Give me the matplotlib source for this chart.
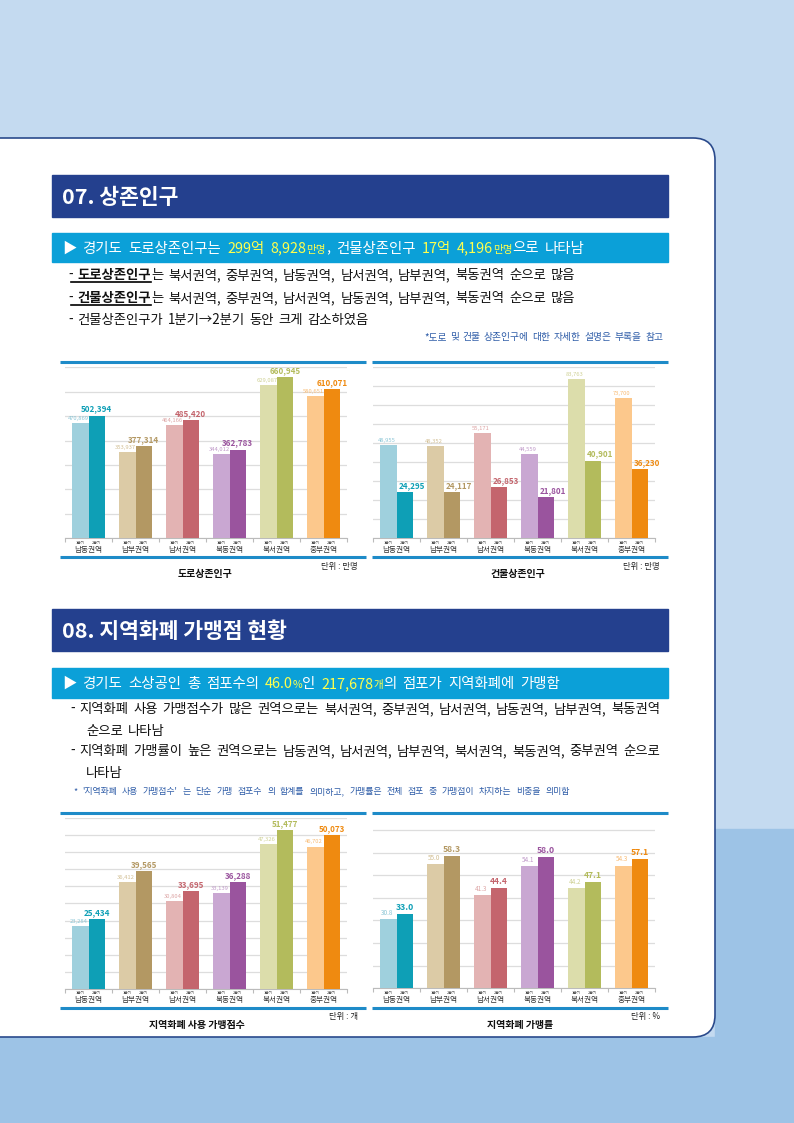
import numpy as np
import matplotlib
matplotlib.use("Agg")
import matplotlib.pyplot as plt
from matplotlib.patches import FancyBboxPatch, Rectangle

plt.rcParams['font.family'] = ['Noto Sans CJK KR', 'DejaVu Sans']

# 데이터
regions = ['남동권역', '남부권역', '남서권역', '북동권역', '북서권역', '중부권역']
quarters = ['1분기', '2분기']
road_q1 = [470869, 353937, 464166, 344012, 629087, 580651]
road_q2 = [502394, 377314, 485420, 362783, 660945, 610071]
bldg_q1 = [48955, 48352, 55171, 44559, 83763, 73700]
bldg_q2 = [24295, 24117, 26853, 21801, 40901, 36230]
store_q1 = [23284, 36412, 30804, 33139, 47326, 46702]
store_q2 = [25434, 39565, 33695, 36288, 51477, 50073]
rate_q1 = [30.8, 55.0, 41.3, 54.1, 44.2, 54.3]
rate_q2 = [33.0, 58.3, 44.4, 58.0, 47.1, 57.1]

light = ['#9FD0DD', '#DCCBA6', '#E3B3B3', '#C9A7D2', '#DCDDAB', '#FCC88C']
dark = ['#0E9FB6', '#B39863', '#C4656D', '#9A549E', '#B3BB5C', '#EF8A10']
light_txt = ['#8CC6D6', '#D2BF94', '#DDA5A5', '#C09AC9', '#CFD196', '#F8BC76']

W, H = 794, 1123
fig = plt.figure(figsize=(W / 100, H / 100), dpi=100)
fig.patch.set_facecolor('#C4DAF0')

# 배경용 축 (픽셀 좌표)
bg = fig.add_axes([0, 0, 1, 1], zorder=0)
bg.set_xlim(0, W)
bg.set_ylim(H, 0)
bg.axis('off')

bg.add_patch(Rectangle((715, 829), 100, 300, color='#9DC3E6', zorder=0))
bg.add_patch(Rectangle((-10, 1037), 830, 100, color='#9DC3E6', zorder=0))
bg.add_patch(FancyBboxPatch((-40, 138), 755, 899,
                            boxstyle='round,pad=0,rounding_size=22',
                            facecolor='white', edgecolor='#2A4A8C', lw=1.2, zorder=1))

renderer = fig.canvas.get_renderer()


def rich(x, y, parts, size, width=None, space=0.35, **kw):
    # 단어 단위로 나눠 그리고, width가 있으면 양쪽 정렬
    tokens = []
    pending = False
    for s, props in parts:
        for j, w in enumerate(s.split(' ')):
            if j > 0:
                pending = True
            if w:
                tokens.append([w, props, pending and len(tokens) > 0])
                pending = False
    objs = []
    for w, props, sb in tokens:
        p = dict(kw)
        p.update({k: v for k, v in props.items() if k not in ('size', 'underline')})
        t = bg.text(0, y, w, fontsize=props.get('size', size), va='baseline',
                    ha='left', zorder=5, **p)
        objs.append((t, t.get_window_extent(renderer).width))
    ngap = sum(1 for tk in tokens if tk[2])
    if width is not None and ngap:
        gap = (width - sum(o[1] for o in objs)) / ngap
    else:
        gap = space * size * 1.389
    for (w, props, sb), (t, wd) in zip(tokens, objs):
        if sb:
            x += gap
        t.set_x(x)
        if props.get('underline'):
            bg.plot([x - 6, x + wd], [y + 3, y + 3], color='black', lw=1.2, zorder=5)
        x += wd
    return x


def header(y0, y1, title):
    bg.add_patch(Rectangle((52, y0), 616, y1 - y0, color='#24408E', zorder=2))
    bg.text(62, (y0 + y1) / 2 + 1, title, color='white', fontsize=15.5,
            fontweight='bold', va='center', zorder=5)


def subheader(y0, y1, parts, width):
    bg.add_patch(Rectangle((52, y0), 616, y1 - y0, color='#0BA0D8', zorder=2))
    rich(62, (y0 + y1) / 2 + 5, parts, 10.4, width=width, color='white', fontweight='medium')


yel = '#FFFF4D'
ink = '#111111'
note = '#2F5DA8'

# 07. 상존인구
header(175, 217, '07. 상존인구')
subheader(233, 262, [
    ('▶ 경기도 도로상존인구는 ', {}),
    ('299억 8,928', {'color': yel}),
    ('만명', {'color': yel, 'size': 7.6}),
    (', 건물상존인구 ', {}),
    ('17억 4,196', {'color': yel}),
    ('만명', {'color': yel, 'size': 7.6}),
    ('으로 나타남', {}),
], 523)
rich(68, 279, [('- ', {}), ('도로상존인구', {'fontweight': 'bold', 'underline': True}),
               ('는 북서권역, 중부권역, 남동권역, 남서권역, 남부권역, 북동권역 순으로 많음', {})],
     9.6, width=507, color=ink)
rich(68, 302, [('- ', {}), ('건물상존인구', {'fontweight': 'bold', 'underline': True}),
               ('는 북서권역, 중부권역, 남서권역, 남동권역, 남부권역, 북동권역 순으로 많음', {})],
     9.6, width=507, color=ink)
rich(68, 324, [('- 건물상존인구가 1분기→2분기 동안 크게 감소하였음', {})], 9.6, width=301, color=ink)
rich(424, 340, [('*도로 및 건물 상존인구에 대한 자세한 설명은 부록을 참고', {})], 7, width=239,
     color=note)

# 08. 지역화폐 가맹점 현황
header(609, 651, '08. 지역화폐 가맹점 현황')
subheader(668, 698, [
    ('▶ 경기도 소상공인 총 점포수의 ', {}),
    ('46.0', {'color': yel}),
    ('%', {'color': yel, 'size': 7.6}),
    ('인 ', {}),
    ('217,678', {'color': yel}),
    ('개', {'color': yel, 'size': 7.6}),
    ('의 점포가 지역화폐에 가맹함', {}),
], 498)
rich(70, 713, [('- 지역화폐 사용 가맹점수가 많은 권역으로는 북서권역, 중부권역, 남서권역, 남동권역, 남부권역, 북동권역', {})],
     9.6, width=590, color=ink)
rich(86, 735, [('순으로 나타남', {})], 9.6, color=ink)
rich(70, 755, [('- 지역화폐 가맹률이 높은 권역으로는 남동권역, 남서권역, 남부권역, 북서권역, 북동권역, 중부권역 순으로', {})],
     9.6, width=590, color=ink)
rich(86, 777, [('나타남', {})], 9.6, color=ink)
rich(73, 794, [("* '지역화폐 사용 가맹점수' 는 단순 가맹 점포수 의 합계를 의미하고, 가맹률은 전체 점포 중 가맹점이 차지하는 비중을 의미함", {})],
     6.4, width=497, color=note)


def chart(rect_px, q1, q2, ylim, yticks, title, unit, fmt, line_y, lx0, lx1, title_x,
          q2_dx=0, big=5.8, small=4.2):
    x0, y0, x1, y1 = rect_px
    ax = fig.add_axes([x0 / W, 1 - y1 / H, (x1 - x0) / W, (y1 - y0) / H], zorder=3)
    ax.patch.set_alpha(0)
    idx = np.arange(len(regions))
    bw = 0.356
    ax.bar(idx - bw / 2, q1, bw, color=light, zorder=3)
    ax.bar(idx + bw / 2, q2, bw, color=dark, zorder=3)
    ax.set_xlim(-0.5, len(regions) - 0.5)
    ax.set_ylim(*ylim)
    ax.set_yticks(yticks)
    ax.yaxis.grid(True, color='#DDDDDD', lw=0.9, zorder=0)
    ax.tick_params(axis='y', length=0, labelleft=False)
    ax.set_xticks(np.arange(-0.5, len(regions), 1))
    ax.tick_params(axis='x', length=3, color='#BBBBBB', labelbottom=False)
    for s in ['top', 'right', 'left']:
        ax.spines[s].set_visible(False)
    ax.spines['bottom'].set_color('#BBBBBB')
    for i in idx:
        ax.annotate(fmt(q1[i]), (i - bw / 2, q1[i]), xytext=(-1, 1.5), textcoords='offset points',
                    ha='center', va='bottom', fontsize=small, color=light_txt[i], zorder=4)
        ax.annotate(fmt(q2[i]), (i + bw / 2, q2[i]), xytext=(q2_dx, 1.5), textcoords='offset points',
                    ha='center', va='bottom', fontsize=big, color=dark[i], fontweight='bold', zorder=4)
        for k, q in enumerate(quarters):
            ax.annotate(q, (i + (k - 0.5) * bw, 0), xycoords=('data', 'axes fraction'),
                        xytext=(0, -2), textcoords='offset points', ha='center', va='top',
                        fontsize=2.8, color='#444444')
        ax.annotate(regions[i], (i, 0), xycoords=('data', 'axes fraction'),
                    xytext=(0, -5.5), textcoords='offset points', ha='center', va='top',
                    fontsize=5.5, color='#333333')
    # 위/아래 파란 선
    for ly in line_y:
        bg.plot([lx0, lx1], [ly, ly], color='#1E8BC8', lw=2.2, zorder=4, solid_capstyle='butt')
    bg.text(lx1 - 8, line_y[1] + 9, unit, fontsize=6, color='#222222', ha='right',
            va='center', zorder=5)
    bg.text(title_x, line_y[1] + 17, title, fontsize=7.2, fontweight='bold',
            color='#111111', ha='center', va='center', zorder=5)
    return ax


comma = lambda v: f'{v:,}'
one = lambda v: f'{v:.1f}'

chart((65, 367.3, 347, 538.3), road_q1, road_q2, (0, 700000), np.arange(0, 700001, 100000),
      '도로상존인구', '단위 : 만명', comma, (362, 557), 60, 366, 205)
chart((373, 367.3, 655, 538.3), bldg_q1, bldg_q2, (0, 90000), np.arange(0, 90001, 10000),
      '건물상존인구', '단위 : 만명', comma, (362, 557), 372, 668, 518, q2_dx=5)
chart((65, 818.3, 347, 988.7), store_q1, store_q2, (5000, 55000), np.arange(5000, 55001, 5000),
      '지역화폐 사용 가맹점수', '단위 : 개', comma, (813, 1008), 60, 366, 197)
chart((373, 818.3, 655, 988.3), rate_q1, rate_q2, (0, 70 * 170 / 158.3), np.arange(0, 71, 10),
      '지역화폐 가맹률', '단위 : %', one, (813, 1008), 372, 668, 520, big=6.2, small=4.6)

fig.savefig('out.png', dpi=100)
